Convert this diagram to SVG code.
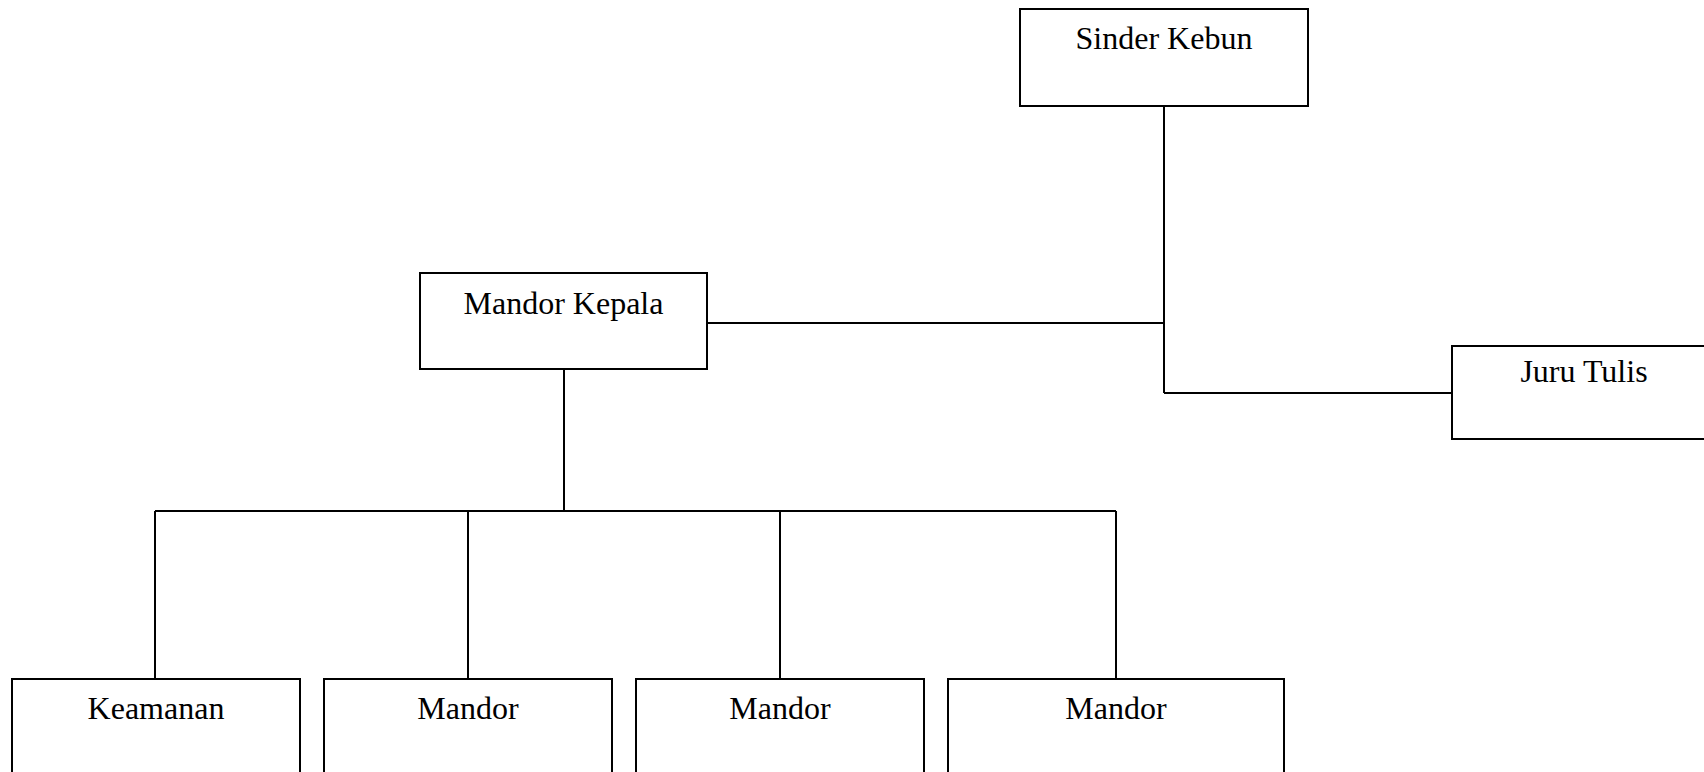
<svg xmlns="http://www.w3.org/2000/svg" width="1704" height="772" viewBox="0 0 1704 772">
<style>
.box{fill:#fff;stroke:#000;stroke-width:2}
.lbl{font-family:"Liberation Serif","Times New Roman",serif;font-size:32px;fill:#000;text-anchor:middle}
.con{fill:none;stroke:#000;stroke-width:2}
</style>
<rect x="0" y="0" width="1704" height="772" fill="#fff"/>
<g id="connectors">
<path class="con" d="M1164 106 V393"/>
<path class="con" d="M707 323 H1164"/>
<path class="con" d="M1164 393 H1452"/>
<path class="con" d="M564 369 V511"/>
<path class="con" d="M155 511 H1116"/>
<path class="con" d="M155 511 V679"/>
<path class="con" d="M468 511 V679"/>
<path class="con" d="M780 511 V679"/>
<path class="con" d="M1116 511 V679"/>
</g>
<g id="sinder-kebun">
<rect class="box" x="1020" y="9" width="288" height="97"/>
<text class="lbl" x="1164" y="49">Sinder Kebun</text>
</g>
<g id="mandor-kepala">
<rect class="box" x="420" y="273" width="287" height="96"/>
<text class="lbl" x="563.5" y="314">Mandor Kepala</text>
</g>
<g id="juru-tulis">
<rect class="box" x="1452" y="346" width="264" height="93"/>
<text class="lbl" x="1584" y="382">Juru Tulis</text>
</g>
<g id="keamanan">
<rect class="box" x="12" y="679" width="288" height="100"/>
<text class="lbl" x="156" y="719">Keamanan</text>
</g>
<g id="mandor-1">
<rect class="box" x="324" y="679" width="288" height="100"/>
<text class="lbl" x="468" y="719">Mandor</text>
</g>
<g id="mandor-2">
<rect class="box" x="636" y="679" width="288" height="100"/>
<text class="lbl" x="780" y="719">Mandor</text>
</g>
<g id="mandor-3">
<rect class="box" x="948" y="679" width="336" height="100"/>
<text class="lbl" x="1116" y="719">Mandor</text>
</g>
</svg>
